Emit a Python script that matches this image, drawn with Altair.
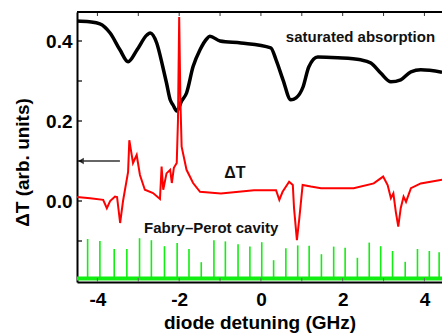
import altair as alt
import pandas as pd

# ---------------- data ----------------
# saturated absorption (black)
sa_x = [-4.50, -4.20, -3.94, -3.69, -3.45, -3.25, -3.03, -2.79, -2.71, -2.55, -2.40,
        -2.31, -2.22, -2.15, -2.06, -1.94, -1.82, -1.66, -1.49, -1.33, -1.25, -1.00,
        -0.49, 0.24, 0.37, 0.54, 0.73, 0.86, 1.03, 1.17, 1.39, 1.88, 2.44, 2.69,
        2.93, 3.18, 3.42, 3.67, 3.91, 4.43]
sa_y = [0.450, 0.448, 0.443, 0.420, 0.378, 0.348, 0.378, 0.415, 0.420, 0.395, 0.335,
        0.295, 0.253, 0.240, 0.225, 0.250, 0.270, 0.336, 0.378, 0.405, 0.412, 0.400,
        0.395, 0.383, 0.353, 0.303, 0.253, 0.258, 0.285, 0.335, 0.360, 0.358, 0.353, 0.345,
        0.320, 0.298, 0.303, 0.323, 0.328, 0.322]

# Delta T (red)
dt_x = [-4.50, -4.18, -3.86, -3.77, -3.69, -3.57, -3.52, -3.445, -3.374, -3.25, -3.22,
        -3.13, -3.04, -2.96, -2.84, -2.64, -2.47, -2.43, -2.39, -2.31, -2.22, -2.18,
        -2.13, -2.06, -2.03, -2.00, -1.97, -1.94, -1.82, -1.66, -1.49, -0.98, -0.17,
        0.37, 0.45, 0.53, 0.69, 0.78, 0.81, 0.88, 0.94, 1.02, 1.22, 1.47, 2.27, 2.76,
        2.99, 3.10, 3.18, 3.24, 3.30, 3.36, 3.42, 3.49, 3.55, 3.67, 3.91, 4.43]
dt_y = [0.010, 0.007, 0.003, -0.018, 0.000, 0.011, 0.010, -0.055, 0.000, 0.073, 0.152,
        0.095, 0.115, 0.065, 0.028, 0.020, 0.005, 0.086, 0.028, 0.069, 0.078, 0.045,
        0.083, 0.095, 0.200, 0.460, 0.250, 0.136, 0.078, 0.045, 0.023, 0.019, 0.027,
        0.027, 0.003, 0.023, 0.048, 0.040, -0.018, -0.098, -0.043, 0.040, 0.036, 0.032, 0.032, 0.044,
        0.061, 0.040, 0.007, 0.019, -0.027, -0.064, -0.018, 0.011, -0.002, 0.032, 0.044, 0.053]

# Fabry-Perot cavity transmission peaks (green)
fp_x = [-4.24, -3.94, -3.59, -3.28, -2.97, -2.68, -2.36, -2.05, -1.76, -1.46, -1.15,
        -0.87, -0.56, -0.27, 0.02, 0.31, 0.61, 0.90, 1.18, 1.48, 1.78, 2.06, 2.36,
        2.65, 2.93, 3.22, 3.53, 3.83, 4.12, 4.36]
fp_top = [-0.095, -0.100, -0.120, -0.120, -0.093, -0.098, -0.113, -0.105, -0.120, -0.153,
          -0.098, -0.101, -0.108, -0.114, -0.103, -0.148, -0.118, -0.111, -0.112, -0.133,
          -0.114, -0.117, -0.142, -0.104, -0.113, -0.125, -0.152, -0.120, -0.125, -0.128]
fp_base = -0.194
fp_base_x = [-4.50, 4.43]

# annotations
labels = ["saturated absorption", "ΔT", "Fabry–Perot cavity"]
label_x = [0.61, -0.64, -2.86]
label_y = [0.41, 0.07, -0.068]
arrow_x = [-4.40, -3.45]
arrow_y = 0.10

xtick_major = [-4, -2, 0, 2, 4]
xtick_all = [-4, -3, -2, -1, 0, 1, 2, 3, 4]
ytick_major = [0.0, 0.2, 0.4]
ytick_minor = [-0.1, 0.1, 0.3]

# ---------------- chart ----------------
FONT = "Liberation Sans"
W, H = 365, 270
xs = alt.Scale(domain=[-4.5, 4.43], nice=False, zero=False)
ys = alt.Scale(domain=[-0.2025, 0.4725], nice=False, zero=False)

xaxis = alt.Axis(values=xtick_major, ticks=False, grid=False,
                 labelExpr="datum.value < 0 ? '-' + abs(datum.value) : '' + datum.value",
                 domainColor="black", domainWidth=2,
                 labelFont=FONT, labelFontWeight="bold", labelFontSize=19, labelColor="black",
                 labelPadding=8, titleFont=FONT, titleFontWeight="bold", titleFontSize=19,
                 titleColor="black", titleBaseline="alphabetic", titleY=46)
yaxis = alt.Axis(values=ytick_major, ticks=False, grid=False, format=".1f",
                 domainColor="black", domainWidth=2,
                 labelFont=FONT, labelFontWeight="bold", labelFontSize=19, labelColor="black",
                 labelPadding=5, titleFont=FONT, titleFontWeight="bold", titleFontSize=19,
                 titleColor="black", titleAngle=270, titleX=-49, titleY=150,
                 titleAlign="center", titleBaseline="alphabetic")

XT = "diode detuning (GHz)"
YT = "ΔT (arb. units)"


def X(f):
    return alt.X(f, scale=xs, axis=xaxis, title=XT)


def Y(f):
    return alt.Y(f, scale=ys, axis=yaxis, title=YT)


sa_df = pd.DataFrame({"x": sa_x, "y": sa_y})
dt_df = pd.DataFrame({"x": dt_x, "y": dt_y})
fp_df = pd.DataFrame({"x": fp_x, "top": fp_top, "base": [fp_base] * len(fp_x)})
fpb_df = pd.DataFrame({"x": fp_base_x, "y": [fp_base] * len(fp_base_x)})
lab_df = pd.DataFrame({"x": label_x, "y": label_y, "t": labels})

black = alt.Chart(sa_df).mark_line(color="black", strokeWidth=3.5, clip=True,
                                   interpolate="monotone").encode(
    x=X("x:Q"), y=Y("y:Q"))
red = alt.Chart(dt_df).mark_line(color="#ff0000", strokeWidth=2, clip=True).encode(
    x=X("x:Q"), y=Y("y:Q"))
green_base = alt.Chart(fpb_df).mark_line(color="#11ee11", strokeWidth=4, clip=True).encode(
    x=X("x:Q"), y=Y("y:Q"))
green_peaks = alt.Chart(fp_df).mark_rule(color="#11ee11", strokeWidth=1.6, clip=True).encode(
    x=X("x:Q"), y=Y("base:Q"), y2="top:Q")

txt_sa = alt.Chart(lab_df.iloc[[0]]).mark_text(
    font=FONT, fontWeight="bold", fontSize=15, align="left", baseline="middle", color="#111"
).encode(x=X("x:Q"), y=Y("y:Q"), text="t:N")
txt_dt = alt.Chart(lab_df.iloc[[1]]).mark_text(
    font=FONT, fontWeight="bold", fontSize=16, align="center", baseline="middle", color="#111"
).encode(x=X("x:Q"), y=Y("y:Q"), text="t:N")
txt_fp = alt.Chart(lab_df.iloc[[2]]).mark_text(
    font=FONT, fontWeight="bold", fontSize=15, align="left", baseline="middle", color="#111"
).encode(x=X("x:Q"), y=Y("y:Q"), text="t:N")

arr_df = pd.DataFrame({"x": [arrow_x[0]], "x2": [arrow_x[1]], "y": [arrow_y]})
arrow_line = alt.Chart(arr_df).mark_rule(color="#333", strokeWidth=1.5).encode(
    x=X("x:Q"), x2="x2:Q", y=Y("y:Q"))
arrow_head = alt.Chart(arr_df).mark_point(shape="triangle-left", filled=True, color="#333",
                                          size=40, opacity=1).encode(x=X("x:Q"), y=Y("y:Q"))

# inward ticks and top frame
xt_df = pd.DataFrame({"v": xtick_all})
yt_df = pd.DataFrame({"v": ytick_major + ytick_minor})
top_ticks = alt.Chart(xt_df).mark_rule(color="#333", strokeWidth=1).encode(
    x=X("v:Q"), y=alt.value(0), y2=alt.value(4))
bot_ticks = alt.Chart(xt_df).mark_rule(color="#666", strokeWidth=1).encode(
    x=X("v:Q"), y=alt.value(H - 4), y2=alt.value(H))
left_ticks = alt.Chart(yt_df).mark_rule(color="black", strokeWidth=1.2).encode(
    y=Y("v:Q"), x=alt.value(0), x2=alt.value(5))
top_frame = alt.Chart(xt_df).mark_rule(color="black", strokeWidth=1.5).encode(
    x=alt.value(0), x2=alt.value(W), y=alt.value(0))

chart = alt.layer(
    black, green_base, green_peaks, red, txt_sa, txt_dt, txt_fp,
    arrow_line, arrow_head, top_ticks, bot_ticks, left_ticks, top_frame
).properties(
    width=W, height=H,
    autosize=alt.AutoSizeParams(type="none"),
    padding={"left": 77, "top": 12, "right": 0, "bottom": 53},
    background="white",
).configure_view(stroke=None)

chart.save("out.html", embed_options={"renderer": "svg", "actions": False})
